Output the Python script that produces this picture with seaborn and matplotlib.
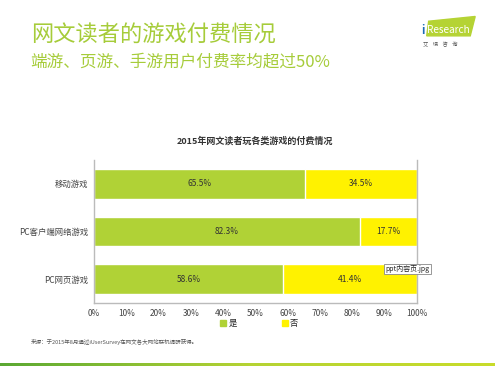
import matplotlib
matplotlib.use("Agg")
import matplotlib.pyplot as plt
import seaborn as sns
import pandas as pd
import numpy as np
from matplotlib.patches import Rectangle, Polygon
from matplotlib.colors import LinearSegmentedColormap

sns.set_theme(style="white")
plt.rcParams['font.family'] = ['Noto Sans CJK SC', 'DejaVu Sans']

categories = ["移动游戏", "PC客户端网络游戏", "PC网页游戏"]
yes_vals = [65.5, 82.3, 58.6]
no_vals = [34.5, 17.7, 41.4]
series_names = ["是", "否"]
xticks = [0, 10, 20, 30, 40, 50, 60, 70, 80, 90, 100]

GREEN = "#b0d236"
YELLOW = "#fff200"
TITLE_GREEN = "#a6cc3a"

df = pd.DataFrame({"cat": categories, "yes": yes_vals, "no": no_vals})
df["total"] = df["yes"] + df["no"]

fig = plt.figure(figsize=(4.95, 3.66), dpi=100)
ax = fig.add_axes([0.190, 0.172, 0.652, 0.391])

sns.barplot(data=df, y="cat", x="total", color=YELLOW, orient="h", width=0.62,
            saturation=1, ax=ax)
sns.barplot(data=df, y="cat", x="yes", color=GREEN, orient="h", width=0.62,
            saturation=1, ax=ax)

for i, (y, n) in enumerate(zip(yes_vals, no_vals)):
    ax.text(y / 2, i, f"{y}%", ha="center", va="center", fontsize=6, color="#333333")
    ax.text(y + n / 2, i, f"{n}%", ha="center", va="center", fontsize=6, color="#333333")

ax.set_xlim(0, 100)
ax.set_ylim(2.5, -0.5)
ax.set_xticks(xticks)
ax.set_xticklabels([f"{t}%" for t in xticks], fontsize=6, color="#444444")
ax.tick_params(axis="y", labelsize=6, labelcolor="#444444", length=0, pad=4)
ax.tick_params(axis="x", length=0, pad=4)
ax.set_xlabel("")
ax.set_ylabel("")
for s in ["left", "right", "bottom"]:
    ax.spines[s].set_color("#bbbbbb")
    ax.spines[s].set_linewidth(1.0)
ax.spines["top"].set_visible(False)

# legend
handles = [Rectangle((0, 0), 1, 1, color=GREEN), Rectangle((0, 0), 1, 1, color=YELLOW)]
fig.legend(handles, series_names, loc="center", bbox_to_anchor=(0.524, 0.117), ncol=2,
           frameon=False, fontsize=6, handlelength=0.7, handleheight=0.7,
           columnspacing=5.4, handletextpad=0.3)

# titles
fig.text(0.062, 0.905, "网文读者的游戏付费情况", fontsize=16, color=TITLE_GREEN,
         va="center", ha="left")
fig.text(0.062, 0.828, "端游、页游、手游用户付费率均超过50%", fontsize=12, color=TITLE_GREEN,
         va="center", ha="left")
fig.text(0.515, 0.615, "2015年网文读者玩各类游戏的付费情况", fontsize=6.5, fontweight="bold",
         color="#333333", ha="center", va="center")

# logo
logo = Polygon([[0.862, 0.902], [0.950, 0.902], [0.960, 0.955], [0.866, 0.942]],
               closed=True, transform=fig.transFigure, color="#b5d334", zorder=1)
fig.add_artist(logo)
fig.text(0.851, 0.918, "i", fontsize=8, color="#1a6bb5", va="center", ha="left", fontweight="bold")
fig.text(0.862, 0.918, "Research", fontsize=7.2, color="white", va="center", ha="left")
fig.text(0.855, 0.880, "艾    瑞    咨    询", fontsize=3.8, color="#555555", va="center", ha="left")

# source
fig.text(0.062, 0.066, "来源：于2015年8月通过iUserSurvey在网文各大网站联机调研获得。", fontsize=4,
         color="#555555", va="center", ha="left")

# tooltip artifact
fig.text(0.779, 0.265, "ppt内容页.jpg", fontsize=5, color="#222222", va="center", ha="left",
         bbox=dict(boxstyle="square,pad=0.2", fc="white", ec="#888888", lw=0.6))

# bottom gradient line
grad = np.linspace(0, 1, 256).reshape(1, -1)
cmap = LinearSegmentedColormap.from_list("g", ["#5aa832", "#b5d334", "#c8dc2a"])
lax = fig.add_axes([0.0, 0.0, 1.0, 0.008])
lax.imshow(grad, aspect="auto", cmap=cmap)
lax.axis("off")

fig.savefig("out.png", dpi=100)
